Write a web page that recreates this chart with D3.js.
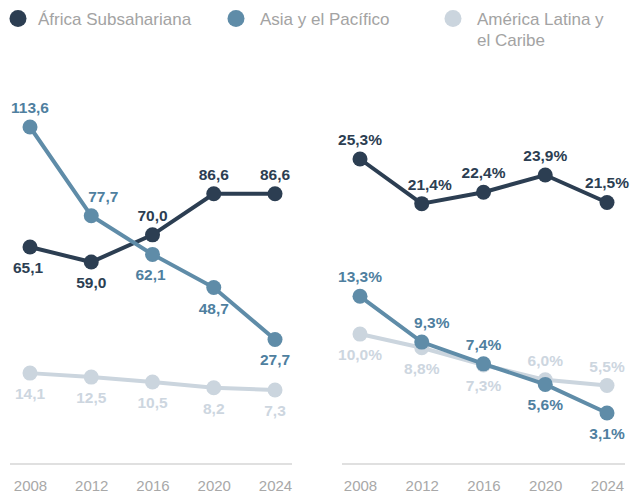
<!DOCTYPE html>
<html>
<head>
<meta charset="utf-8">
<script src="https://cdn.jsdelivr.net/npm/d3@7"></script>
<style>
  body { margin: 0; background: #fff; }
  svg text { font-family: "Liberation Sans", Arial, sans-serif; }
</style>
</head>
<body>
<div id="chart"></div>
<script>
// --- datos ---
const years = [2008, 2012, 2016, 2020, 2024];
const seriesNames = ["África Subsahariana", "Asia y el Pacífico", "América Latina y el Caribe"];

// panel izquierdo (millones)
const africaAbs = [65.1, 59.0, 70.0, 86.6, 86.6];
const asiaAbs = [113.6, 77.7, 62.1, 48.7, 27.7];
const latamAbs = [14.1, 12.5, 10.5, 8.2, 7.3];

// panel derecho (%)
const africaPct = [25.3, 21.4, 22.4, 23.9, 21.5];
const asiaPct = [13.3, 9.3, 7.4, 5.6, 3.1];
const latamPct = [10.0, 8.8, 7.3, 6.0, 5.5];

// posición de etiquetas: "a" arriba, "b" abajo, "ar" arriba a la derecha
const africaAbsPos = ["b", "b", "a", "a", "a"];
const asiaAbsPos = ["a", "ar", "b", "b", "b"];
const latamAbsPos = ["b", "b", "b", "b", "b"];
const africaPctPos = ["a", "ar", "a", "a", "a"];
const asiaPctPos = ["a", "ar", "a", "b", "b"];
const latamPctPos = ["b", "b", "b", "a", "a"];

const colors = ["#2c3e52", "#5f8ca8", "#cbd5de"];
const labelColors = ["#2c3e52", "#4f7f9f", "#cdd6df"];

const width = 630, height = 493;
const svg = d3.select("#chart").append("svg")
    .attr("width", width)
    .attr("height", height);

const fmt = v => d3.format(".1f")(v).replace(".", ",");

// --- leyenda ---
const legendX = [18, 236, 453];
const legend = svg.append("g");
seriesNames.forEach((name, i) => {
    legend.append("circle")
        .attr("cx", legendX[i])
        .attr("cy", 18.5)
        .attr("r", 8.5)
        .attr("fill", colors[i]);
    const t = legend.append("text")
        .attr("y", 25)
        .attr("fill", "#a3a3a3")
        .style("font-size", "17px");
    if (i === 2) {
        t.append("tspan").attr("x", legendX[i] + 24).text("América Latina y");
        t.append("tspan").attr("x", legendX[i] + 24).attr("dy", 21).text("el Caribe");
    } else {
        t.attr("x", legendX[i] + (i === 0 ? 20 : 24)).text(name);
    }
});

function panel(opts) {
    const x = d3.scalePoint()
        .domain(years)
        .range(opts.xRange);
    const y = d3.scaleLinear()
        .domain(opts.yDomain)
        .range(opts.yRange);

    const g = svg.append("g");

    // eje x
    g.append("line")
        .attr("x1", opts.axisRange[0]).attr("x2", opts.axisRange[1])
        .attr("y1", 464).attr("y2", 464)
        .attr("stroke", "#e0e0e0")
        .attr("stroke-width", 2);

    const axis = g.append("g")
        .attr("transform", "translate(0,464)")
        .call(d3.axisBottom(x).tickSize(0).tickPadding(16));
    axis.select(".domain").remove();
    axis.selectAll("text")
        .attr("fill", "#a8a8a8")
        .style("font-size", "15px")
        .style("font-family", "Liberation Sans, Arial, sans-serif");

    const line = d3.line()
        .x((d, i) => x(years[i]))
        .y(d => y(d));

    // orden de dibujo: latam, áfrica, asia
    [2, 0, 1].forEach(si => {
        const vals = opts.series[si];
        const pos = opts.pos[si];
        g.append("path")
            .datum(vals)
            .attr("d", line)
            .attr("fill", "none")
            .attr("stroke", colors[si])
            .attr("stroke-width", 4);
        g.selectAll(".dot-" + si)
            .data(vals)
            .enter().append("circle")
            .attr("cx", (d, i) => x(years[i]))
            .attr("cy", d => y(d))
            .attr("r", 7.5)
            .attr("fill", colors[si]);
        g.selectAll(".lab-" + si)
            .data(vals)
            .enter().append("text")
            .attr("x", (d, i) => x(years[i]) + (pos[i] === "ar" ? 10 : 0) + (opts.dx ? opts.dx[si][i] : 0))
            .attr("y", (d, i) => y(d) + (pos[i] === "b" ? 26 : -14))
            .attr("text-anchor", "middle")
            .attr("fill", labelColors[si])
            .style("font-size", "15.5px")
            .style("font-weight", "bold")
            .text(d => fmt(d) + opts.suffix);
    });
}

panel({
    xRange: [30, 275],
    axisRange: [10, 292],
    yDomain: [0, 113.6],
    yRange: [408, 127],
    series: [africaAbs, asiaAbs, latamAbs],
    pos: [africaAbsPos, asiaAbsPos, latamAbsPos],
    dx: [[-2, 0, 0, 0, 0], [0, 2, -2, 0, 0], [0, 0, 0, 0, 0]],
    suffix: ""
});

panel({
    xRange: [360, 607],
    axisRange: [342, 625],
    yDomain: [0, 25.3],
    yRange: [448.5, 159],
    series: [africaPct, asiaPct, latamPct],
    pos: [africaPctPos, asiaPctPos, latamPctPos],
    dx: [[0, -2, 0, 0, 0], [0, 0, 0, 0, 0], [0, 0, 0, 0, 0]],
    suffix: "%"
});
</script>
</body>
</html>
